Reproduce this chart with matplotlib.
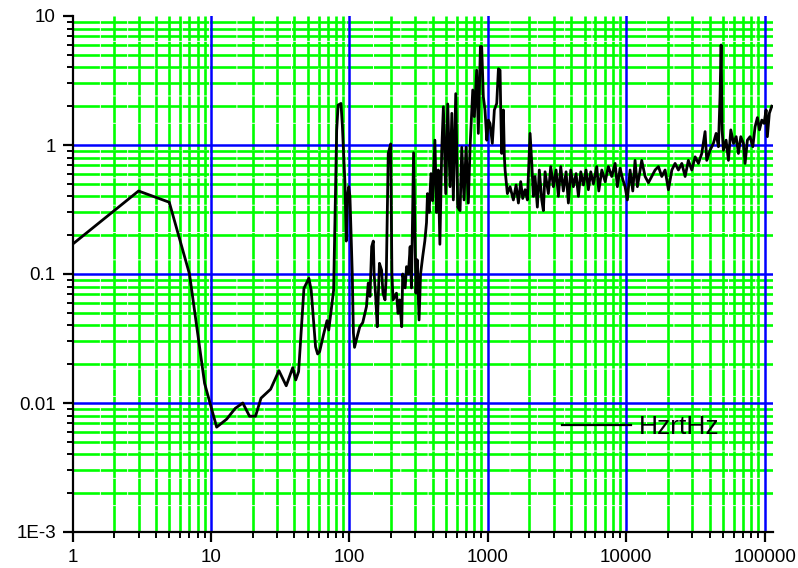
import numpy as np
import matplotlib
matplotlib.use('Agg')
from matplotlib import pyplot as plt
from matplotlib.ticker import FixedLocator, FixedFormatter, NullFormatter

plt.rcParams['font.family'] = ['Liberation Sans', 'DejaVu Sans']

# frequency (Hz) and amplitude
freq = [1, 3, 5, 7, 9, 11, 13, 15, 17, 19, 21, 23, 27, 31, 35, 39, 41, 43, 47, 51,
        53, 57, 59, 61, 65, 69, 71, 77, 81, 83, 87, 89, 93, 95, 97, 99, 101, 105, 107, 109,
        113, 119, 125, 133, 137, 141, 145, 149, 151, 155, 159, 165, 171, 175, 181, 185, 191, 199, 203, 207,
        219, 225, 231, 239, 243, 253, 259, 267, 275, 281, 291, 303, 309, 319, 327, 339, 351, 361, 367, 377,
        389, 399, 415, 427, 439, 451, 465, 478, 497, 514, 534, 550, 564, 587, 607, 631, 649, 674, 697, 724,
        745, 779, 800, 832, 855, 885, 904, 929, 955, 984, 1010, 1038, 1079, 1116, 1161, 1194, 1227, 1241, 1262, 1297,
        1318, 1334, 1386, 1449, 1531, 1602, 1665, 1730, 1789, 1861, 1933, 2022, 2080, 2135, 2196, 2282, 2358, 2455, 2522, 2594,
        2741, 2851, 2980, 3116, 3238, 3367, 3516, 3679, 3823, 3978, 4154, 4346, 4518, 4700, 4911, 5130, 5333, 5548, 5796, 6133,
        6340, 6670, 7046, 7436, 7866, 8320, 8635, 9040, 9445, 9817, 10200, 10670, 11160, 11590, 12050, 12950, 13700, 14480, 15300, 16180,
        17100, 18080, 19100, 20200, 21380, 22560, 23840, 25230, 26660, 28130, 29790, 31480, 33270, 35160, 37150, 38190, 40370, 42660, 44640, 46380,
        47640, 48500, 49300, 50400, 52700, 54800, 57000, 59600, 62300, 64700, 67300, 70300, 72300, 75100, 78500, 82200, 85300, 88700, 91800, 95500,
        99100, 102500, 104700, 108200, 112700]
hzrthz = [0.17, 0.44, 0.36, 0.10, 0.0142, 0.0065, 0.0075, 0.0091, 0.0100, 0.0079, 0.0079, 0.0109, 0.0128, 0.0178, 0.0136, 0.0188, 0.0151, 0.0175, 0.0775, 0.0926,
          0.075, 0.0273, 0.024, 0.025, 0.0337, 0.0435, 0.0368, 0.075, 1.3, 2.04, 2.1, 1.43, 0.5, 0.18, 0.40, 0.475, 0.40, 0.10, 0.035, 0.027,
          0.0316, 0.039, 0.042, 0.056, 0.085, 0.067, 0.163, 0.18, 0.10, 0.067, 0.039, 0.121, 0.107, 0.071, 0.063, 0.10, 0.86, 1.02, 0.10, 0.063,
          0.071, 0.0495, 0.063, 0.039, 0.10, 0.078, 0.114, 0.10, 0.163, 0.078, 0.87, 0.071, 0.129, 0.044, 0.10, 0.137, 0.18, 0.25, 0.42, 0.30,
          0.60, 0.37, 1.09, 0.30, 0.64, 0.17, 0.91, 1.98, 0.42, 2.08, 0.475, 1.76, 0.375, 2.5, 0.33, 0.31, 0.96, 0.375, 0.96, 0.355,
          0.96, 2.67, 1.66, 3.8, 1.23, 5.8, 5.8, 2.37, 1.87, 1.09, 1.56, 1.47, 1.03, 1.87, 2.1, 3.9, 3.8, 1.87, 0.86, 1.87,
          0.81, 0.64, 0.42, 0.475, 0.375, 0.49, 0.355, 0.52, 0.385, 0.45, 0.375, 1.23, 0.72, 0.40, 0.57, 0.33, 0.64, 0.375, 0.31, 0.62,
          0.42, 0.68, 0.475, 0.64, 0.40, 0.68, 0.44, 0.62, 0.355, 0.64, 0.475, 0.6, 0.40, 0.62, 0.49, 0.64, 0.45, 0.62, 0.5, 0.68,
          0.44, 0.64, 0.52, 0.68, 0.57, 0.72, 0.475, 0.66, 0.54, 0.475, 0.375, 0.64, 0.44, 0.76, 0.475, 0.76, 0.57, 0.51, 0.57, 0.64,
          0.68, 0.57, 0.64, 0.45, 0.64, 0.72, 0.64, 0.72, 0.57, 0.76, 0.64, 0.81, 0.72, 0.86, 1.27, 0.76, 0.91, 1.03, 1.23, 0.97,
          2.37, 5.96, 1.31, 0.91, 1.09, 0.76, 1.31, 1.03, 1.16, 0.86, 1.16, 1.03, 0.72, 1.09, 1.16, 0.97, 1.38, 1.63, 1.31, 1.56,
          1.47, 1.87, 1.16, 1.76, 2.0]

x_major = [1, 10, 100, 1000, 10000, 100000]
x_labels = ['1', '10', '100', '1000', '10000', '100000']
y_major = [0.001, 0.01, 0.1, 1, 10]
y_labels = ['1E-3', '0.01', '0.1', '1', '10']

fig = plt.figure(figsize=(7.98, 5.68), dpi=100)
ax = fig.add_axes([72.5 / 798, 1 - 532 / 568, 700.5 / 798, 516 / 568])
ax.set_xscale('log')
ax.set_yscale('log')
ax.set_xlim(1, 1.15e5)
ax.set_ylim(1e-3, 10)

# grid drawn by hand so the top edge keeps no line
x_minor = [m * 10.0 ** d for d in range(0, 5) for m in range(2, 10)]
x_minor = [v for v in x_minor if v < 1.15e5]
y_minor = [m * 10.0 ** d for d in range(-3, 1) for m in range(2, 10)]
for v in x_minor:
    ax.axvline(v, color='#00ff00', lw=1.9, ls=(0, (10, 0.35)), zorder=1)
for v in y_minor:
    ax.axhline(v, color='#00ff00', lw=1.9, ls=(0, (10, 0.35)), zorder=1)
for v in x_major[1:]:
    ax.axvline(v, color='#0000ff', lw=1.8, zorder=2)
for v in y_major[1:-1]:
    ax.axhline(v, color='#0000ff', lw=1.8, zorder=2)

ax.plot(freq, hzrthz, color='black', lw=2.0, label='HzrtHz', zorder=3)

ax.xaxis.set_major_locator(FixedLocator(x_major))
ax.xaxis.set_major_formatter(FixedFormatter(x_labels))
ax.xaxis.set_minor_locator(FixedLocator(x_minor))
ax.xaxis.set_minor_formatter(NullFormatter())
ax.yaxis.set_major_locator(FixedLocator(y_major))
ax.yaxis.set_major_formatter(FixedFormatter(y_labels))
ax.yaxis.set_minor_locator(FixedLocator(y_minor))
ax.yaxis.set_minor_formatter(NullFormatter())

for s in ['top', 'right']:
    ax.spines[s].set_visible(False)
for s in ['left', 'bottom']:
    ax.spines[s].set_linewidth(1.6)
    ax.spines[s].set_zorder(4)
ax.tick_params(which='major', direction='out', length=7, width=1.6, labelsize=13.5, pad=5)
ax.tick_params(which='minor', direction='out', length=4, width=1.4)

leg = ax.legend(loc='center left', bbox_to_anchor=(562 / 798, 1 - 427 / 568),
                bbox_transform=fig.transFigure, frameon=False, fontsize=19,
                handlelength=2.6, handletextpad=0.3, borderpad=0, borderaxespad=0)
leg.get_lines()[0].set_linewidth(1.6)

fig.savefig('out.png', dpi=100)
